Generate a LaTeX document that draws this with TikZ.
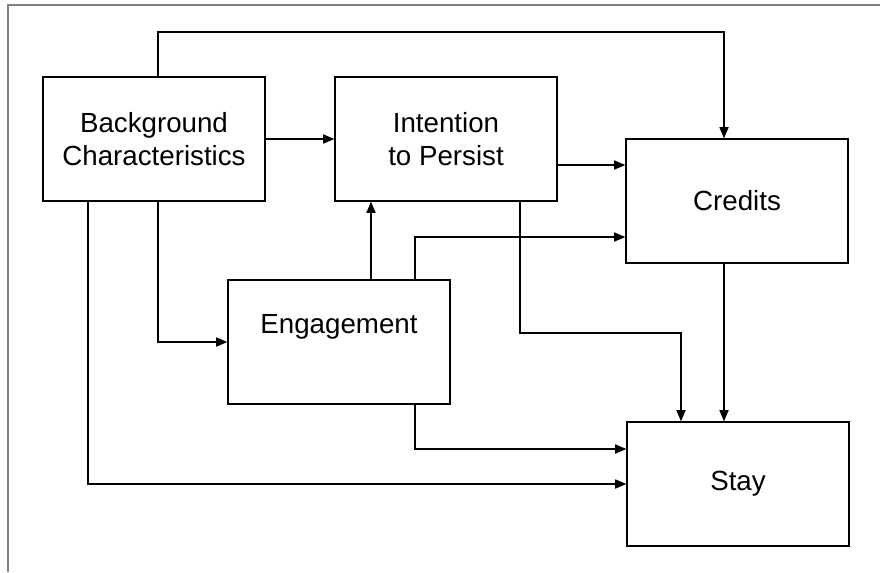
\documentclass[tikz,border=0pt]{standalone}
\usepackage{fontspec}
\setmainfont{Liberation Sans}
\usepackage{tikz}
\usetikzlibrary{arrows.meta}

\begin{document}
\begin{tikzpicture}[x=0.025cm, y=-0.025cm,
  box/.style={draw, line width=0.9pt, minimum width=5.55cm, minimum height=3.1cm,
    align=center, font=\fontsize{19.7}{23.7}\selectfont},
  arr/.style={line width=0.9pt, -{Triangle[length=8pt, width=6.5pt]}}]
\useasboundingbox (0,0) rectangle (880,572);
\draw[gray, line width=1.3pt] (8,572) -- (8,5) -- (880,5);
\node[box] (bg) at (154,139) {Background\\Characteristics};
\node[box] (in) at (446,139) {Intention\\to Persist};
\node[box] (cr) at (737,201) {Credits};
\node[box, text depth=0.9cm] (en) at (339,342) {Engagement};
\node[box] (st) at (738,484) {Stay};
\draw[arr] (bg.north -| 158,0) -- (158,32) -| (cr.north -| 724,0);
\draw[arr] (bg) -- (in);
\draw[arr] (in.east |- 0,165) -- (cr.west |- 0,165);
\draw[arr] (bg.south -| 158,0) |- (en.west);
\draw[arr] (en.north -| 371,0) -- (in.south -| 371,0);
\draw[arr] (en.north -| 415,0) |- (cr.west |- 0,237);
\draw[arr] (in.south -| 520,0) -- (520,333) -| (st.north -| 681,0);
\draw[arr] (cr.south -| 724,0) -- (st.north -| 724,0);
\draw[arr] (en.south -| 415,0) |- (st.west |- 0,449);
\draw[arr] (bg.south -| 88,0) |- (st.west);
\end{tikzpicture}
\end{document}
